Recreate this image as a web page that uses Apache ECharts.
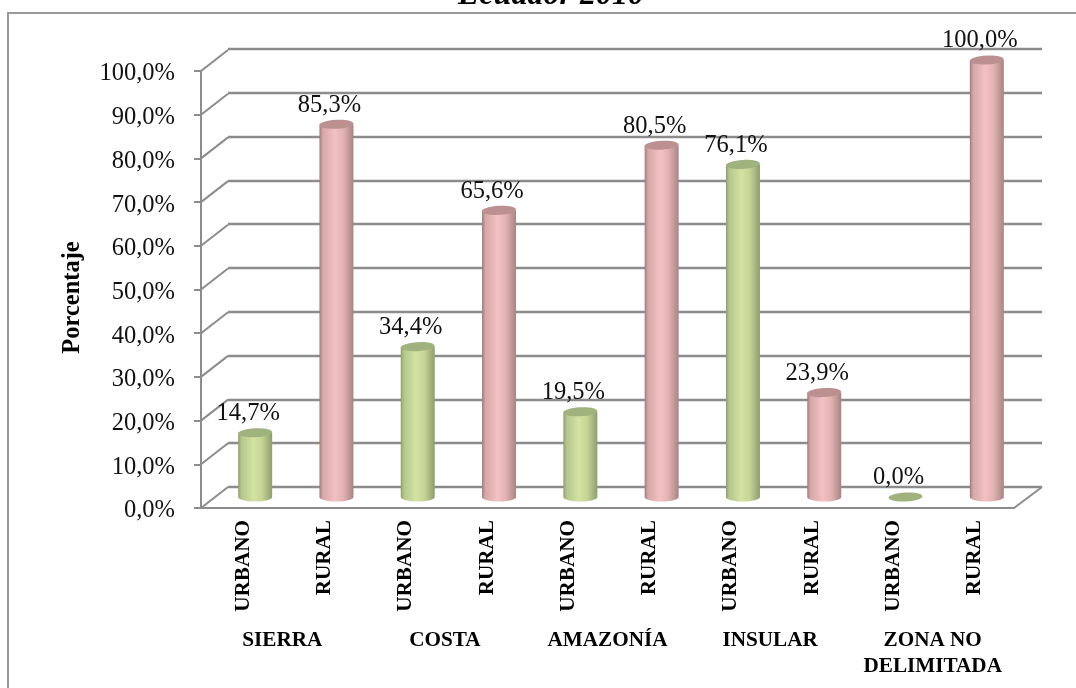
<!DOCTYPE html>
<html><head><meta charset="utf-8">
<style>html,body{margin:0;padding:0;background:#fff}#c{width:1076px;height:688px}</style>
<script src="https://cdn.jsdelivr.net/npm/echarts@6/dist/echarts.min.js"></script>
</head><body><div id="c"></div>
<script>
const categories = ['URBANO','RURAL','URBANO','RURAL','URBANO','RURAL','URBANO','RURAL','URBANO','RURAL'];
const groups = ['SIERRA','COSTA','AMAZONÍA','INSULAR','ZONA NO\nDELIMITADA'];
const values = [14.7,85.3,34.4,65.6,19.5,80.5,76.1,23.9,0.0,100.0];
const yTicks = [0,10,20,30,40,50,60,70,80,90,100];
const titleText = 'Ecuador 2010';
const yName = 'Porcentaje';

const serif = '"Liberation Serif","Times New Roman",serif';
const lineC = '#8c8c8c';
const fmt = v => v.toFixed(1).replace('.', ',') + '%';
const grad = stops => ({type:'linear',x:0,y:0,x2:1,y2:0,colorStops:stops.map(s=>({offset:s[0],color:s[1]}))});
const palette = {
  URBANO:{top:'#a0b27e', body:grad([[0,'#8f9f70'],[0.1,'#b5c78d'],[0.45,'#d2e3a2'],[0.7,'#c4d596'],[1,'#8e9d70']])},
  RURAL:{top:'#bc9090', body:grad([[0,'#a07a7a'],[0.1,'#d6a8a8'],[0.45,'#f3c1c1'],[0.7,'#e2b2b2'],[1,'#a88484']])}
};

const chart = echarts.init(document.getElementById('c'), null, {renderer:'canvas'});
const front = {left:201, top:71, width:813, height:437};
const back = {left:228, top:49, width:814, height:438};
const barsG = {left:214.5, top:60, width:813, height:437};
// Same plane as the front, nudged so that the label glyphs sit centred on their ticks.
const labelG = {left:202.5, top:74, width:813, height:437};

function cylinder(params, api){
  const i = api.value(0), v = api.value(1);
  const base = api.coord([i,0]), top = api.coord([i,v]);
  const rx = 17, ry = 4.5, cx = base[0];
  const cat = categories[i], pal = palette[cat];
  const kids = [];
  if (v > 0){
    const pts = [[cx-rx,top[1]],[cx+rx,top[1]]];
    for (let k=0;k<=16;k++){
      const a = Math.PI*k/16;
      pts.push([cx+rx*Math.cos(a), base[1]+ry*Math.sin(a)]);
    }
    kids.push({type:'polygon',shape:{points:pts},style:{fill:pal.body}});
  }
  kids.push({type:'ellipse',shape:{cx:cx,cy:top[1],rx:rx,ry:ry},rotation:0.05,originX:cx,originY:top[1],style:{fill:pal.top}});
  kids.push({type:'text',x:cx-7,y:top[1]-19,style:{text:fmt(v),font:'24.5px '+serif,fill:'#111',align:'center',verticalAlign:'middle'},z2:10});
  return {type:'group',children:kids};
}

// Side wall and floor edges joining the front plane to the back wall.
function depthLines(params, api){
  const v = api.value(0);
  const band = front.width/categories.length;
  const p = api.coord([0,v]);
  const x0 = p[0] - band/2;
  const kids = [{type:'line',shape:{x1:x0,y1:p[1],x2:x0+27,y2:p[1]-21},style:{stroke:lineC,lineWidth:2}}];
  if (v === 0){
    const q = api.coord([categories.length-1,0]);
    const rightX = q[0] + band/2;
    kids.push({type:'line',shape:{x1:rightX,y1:p[1],x2:rightX+28,y2:p[1]-21},style:{stroke:lineC,lineWidth:2}});
  }
  return {type:'group',children:kids};
}

chart.setOption({
  animation:false,
  backgroundColor:'#fff',
  title:{text:titleText,left:546,textAlign:'center',top:-25,textStyle:{fontFamily:serif,fontSize:32,fontWeight:'bold',fontStyle:'italic',color:'#000'}},
  graphic:[{type:'rect',shape:{x:8,y:13,width:1200,height:900},style:{fill:'none',stroke:'#9a9a9a',lineWidth:2},silent:true,z:-1}],
  grid:[
    Object.assign({containLabel:false},front),
    Object.assign({containLabel:false},back),
    Object.assign({containLabel:false},barsG),
    Object.assign({containLabel:false},labelG)
  ],
  xAxis:[
    {gridIndex:0,type:'category',data:categories,position:'bottom',
      axisLine:{show:true,lineStyle:{color:lineC,width:2}},axisTick:{show:false},axisLabel:{show:false}},
    {gridIndex:0,type:'category',data:groups,position:'bottom',offset:112,
      axisLine:{show:false},axisTick:{show:false},
      axisLabel:{interval:0,fontFamily:serif,fontWeight:'bold',fontSize:21.2,lineHeight:26,color:'#000',verticalAlign:'top'}},
    {gridIndex:1,type:'category',data:categories,show:false},
    {gridIndex:2,type:'category',data:categories,show:false},
    {gridIndex:3,type:'category',data:categories,position:'bottom',
      axisLine:{show:false},axisTick:{show:false},
      axisLabel:{interval:0,rotate:90,margin:9,fontFamily:serif,fontWeight:'bold',fontSize:21.2,color:'#000'}}
  ],
  yAxis:[
    {gridIndex:0,type:'value',min:0,max:100,interval:10,
      axisLine:{show:true,lineStyle:{color:lineC,width:2}},
      axisTick:{show:true,length:7,lineStyle:{color:lineC,width:2}},
      splitLine:{show:false},axisLabel:{show:false}},
    {gridIndex:1,type:'value',min:0,max:100,interval:10,
      axisLine:{show:false},axisTick:{show:false},axisLabel:{show:false},
      splitLine:{show:true,lineStyle:{color:lineC,width:2.4}}},
    {gridIndex:2,type:'value',min:0,max:100,interval:10,show:false,splitLine:{show:false}},
    {gridIndex:3,type:'value',min:0,max:100,interval:10,name:yName,nameLocation:'middle',nameGap:117.5,nameRotate:90,
      nameTextStyle:{fontFamily:serif,fontWeight:'bold',fontSize:24.5,color:'#000',padding:[0,10,0,0]},
      axisLine:{show:false},axisTick:{show:false},splitLine:{show:false},
      axisLabel:{formatter:v=>fmt(v),margin:27.5,fontFamily:serif,fontSize:24.5,color:'#111'}}
  ],
  series:[
    {type:'custom',xAxisIndex:0,yAxisIndex:0,coordinateSystem:'cartesian2d',renderItem:depthLines,
      encode:{y:0},data:yTicks.map(v=>[v]),silent:true,z:1,clip:false},
    {type:'custom',xAxisIndex:3,yAxisIndex:2,coordinateSystem:'cartesian2d',renderItem:cylinder,
      encode:{x:0,y:1},data:values.map((v,i)=>[i,v]),silent:true,z:5,clip:false}
  ]
});
</script></body></html>
